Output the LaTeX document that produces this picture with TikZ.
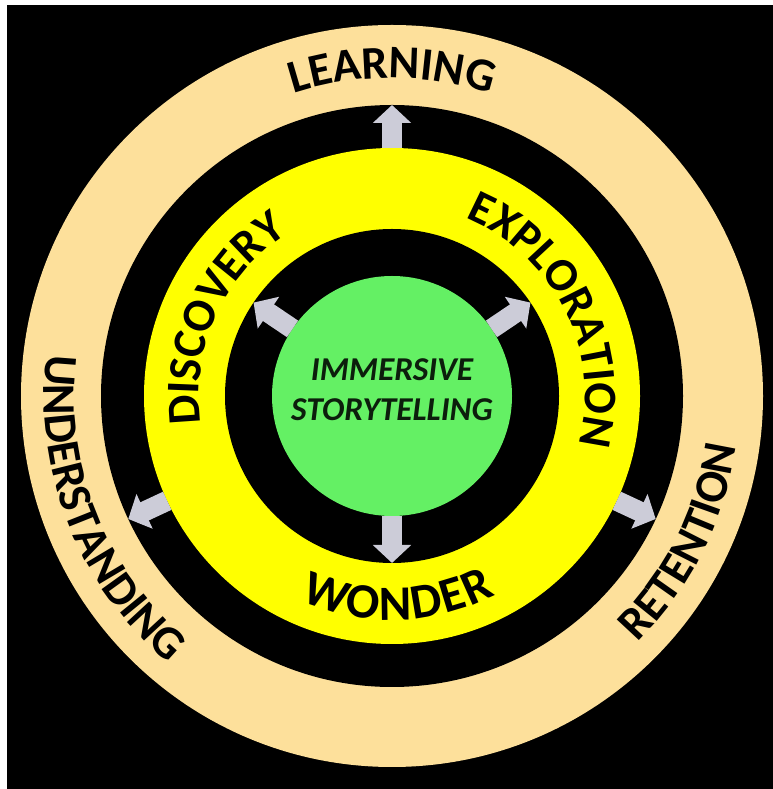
\documentclass[tikz,border=0pt]{standalone}
\usepackage{fontspec}
\setmainfont{Carlito}
\usetikzlibrary{decorations.text, arrows.meta}

\definecolor{ringbeige}{RGB}{253,224,155}
\definecolor{ringyellow}{RGB}{255,255,0}
\definecolor{coregreen}{RGB}{100,240,100}
\definecolor{arrowgray}{RGB}{204,204,216}
\definecolor{coreink}{RGB}{12,30,12}

\newcommand\ringfont{\fontsize{35}{35}\selectfont\bfseries}
\newcommand\wideringfont{\fontsize{37}{37}\selectfont\bfseries}

\tikzset{
  disk/.style={circle, inner sep=0pt, outer sep=0pt, draw=none, fill=#1},
  blockarrow/.style={draw=arrowgray, line width=15pt,
    -{Triangle[length=13.5pt, width=28pt, fill=arrowgray]}},
  ringtext/.style={decorate, decoration={text along path, text align=center,
    text={|\ringfont|#1}}},
  spreadtext/.style={decorate, decoration={text along path,
    text align={fit to path}, text={|\wideringfont|#1}}}
}

\begin{document}
\begin{tikzpicture}[x=0.75pt, y=0.75pt]
  \useasboundingbox (0,0) rectangle (773,789);
  \fill[white] (0,0) rectangle (773,789);
  \fill[black] (7,0) rectangle (773,784);

  \coordinate (c) at (392,393);

  % concentric rings
  \node[disk=ringbeige,  minimum size=556.5pt] (rimOuter) at (c) {};
  \node[disk=black,      minimum size=436.5pt] (rimGap)   at (c) {};
  \node[disk=ringyellow, minimum size=372pt]   (band)     at (c) {};
  \node[disk=black,      minimum size=250.5pt] (innerGap) at (c) {};
  \node[disk=coregreen,  minimum size=180pt]   (core)     at (c) {};

  % centre label
  \node[font=\fontsize{25}{30}\selectfont\bfseries\itshape, align=center,
        text=coreink] (coreLabel) at (392,399) {IMMERSIVE\\STORYTELLING};

  % arrows from the core into the yellow ring
  \draw[blockarrow] (core.146) -- (innerGap.146);
  \draw[blockarrow] (core.34)  -- (innerGap.34);
  \draw[blockarrow] (core.270) -- (innerGap.270);

  % arrows from the yellow ring into the outer ring
  \draw[blockarrow] (band.90)  -- (rimGap.90);
  \draw[blockarrow] (band.205) -- (rimGap.205);
  \draw[blockarrow] (band.335) -- (rimGap.335);

  % outer ring words
  \path[ringtext=LEARNING]
    ([shift={(150:318)}]c) arc[start angle=150, end angle=30, radius=318];
  \path[ringtext=UNDERSTANDING]
    ([shift={(151.65:348)}]c) arc[start angle=151.65, end angle=251.65, radius=348];
  \path[ringtext=RETENTION]
    ([shift={(283.3:348)}]c) arc[start angle=283.3, end angle=383.3, radius=348];

  % yellow ring words
  \path[ringtext=DISCOVERY]
    ([shift={(215.5:193)}]c) arc[start angle=215.5, end angle=95.5, radius=193];
  \path[ringtext=EXPLORATION]
    ([shift={(86.5:193)}]c) arc[start angle=86.5, end angle=-33.5, radius=193];
  \path[spreadtext=WONDER]
    ([shift={(246:224)}]c) arc[start angle=246, end angle=297.5, radius=224];
\end{tikzpicture}
\end{document}
